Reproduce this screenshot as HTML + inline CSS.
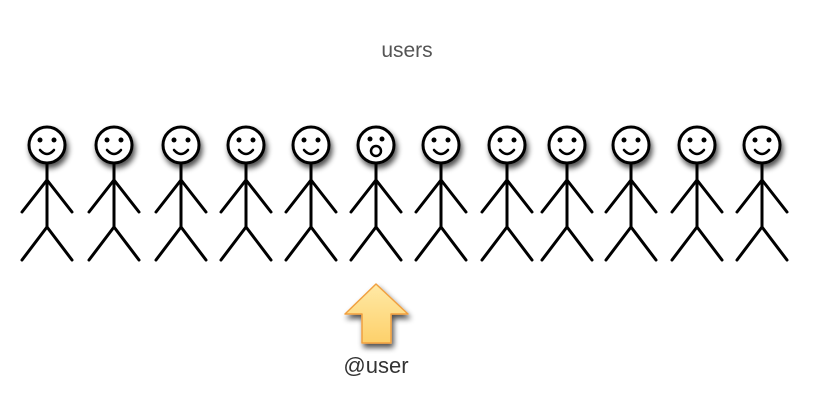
<!DOCTYPE html>
<html><head><style>body{margin:0;background:#fff;}svg{display:block}</style></head><body>
<svg width="813" height="417" viewBox="0 0 813 417" xmlns="http://www.w3.org/2000/svg">
<defs>
<filter id="sh" x="-50%" y="-50%" width="200%" height="200%"><feGaussianBlur in="SourceAlpha" stdDeviation="3"/><feOffset dx="2" dy="4"/><feComponentTransfer><feFuncA type="linear" slope="0.7"/></feComponentTransfer><feMerge><feMergeNode/><feMergeNode in="SourceGraphic"/></feMerge></filter>
<linearGradient id="ag" x1="0" y1="0" x2="0" y2="1"><stop offset="0" stop-color="#ffe9a6"/><stop offset="1" stop-color="#fdd06a"/></linearGradient>
<g id="body" fill="none" stroke="#000" stroke-width="3" stroke-linecap="round">
<line x1="0" y1="18" x2="0" y2="82"/><line x1="0" y1="35" x2="-25" y2="67"/><line x1="0" y1="35" x2="25" y2="67"/><line x1="0" y1="82" x2="-25" y2="115"/><line x1="0" y1="82" x2="25" y2="115"/>
</g>
<g id="smile"><use href="#body"/><circle cx="0" cy="0" r="18" fill="#fff" stroke="#000" stroke-width="3" filter="url(#sh)"/><circle cx="-7" cy="-5" r="2.5"/><circle cx="7" cy="-5" r="2.5"/><path d="M-7 5 Q0 13 7 5" fill="none" stroke="#000" stroke-width="2.5" stroke-linecap="round"/></g>
</defs>
<text x="407" y="57" font-family="Liberation Sans, sans-serif" font-size="21" fill="#555" text-anchor="middle">users</text>
<g transform="translate(0,145)">
<use href="#smile" x="47"/><use href="#smile" x="114"/><use href="#smile" x="181"/><use href="#smile" x="246"/><use href="#smile" x="311"/>
<g transform="translate(376,0)"><use href="#body"/><circle r="18" fill="#fff" stroke="#000" stroke-width="3" filter="url(#sh)"/><circle cx="-6" cy="-6" r="2.5"/><circle cx="6" cy="-6" r="2.5"/><circle cx="0" cy="6" r="5" fill="none" stroke="#000" stroke-width="2.5"/></g>
<use href="#smile" x="441"/><use href="#smile" x="507"/><use href="#smile" x="567"/><use href="#smile" x="631"/><use href="#smile" x="697"/><use href="#smile" x="762"/>
</g>
<path d="M376 284 L408 314 L391 314 L391 343 L362 343 L362 314 L345 314 Z" fill="url(#ag)" stroke="#f0a040" stroke-width="1.5" stroke-linejoin="round" filter="url(#sh)"/>
<text x="376" y="373" font-family="Liberation Sans, sans-serif" font-size="22" fill="#333" text-anchor="middle">@user</text>
</svg>
</body></html>
